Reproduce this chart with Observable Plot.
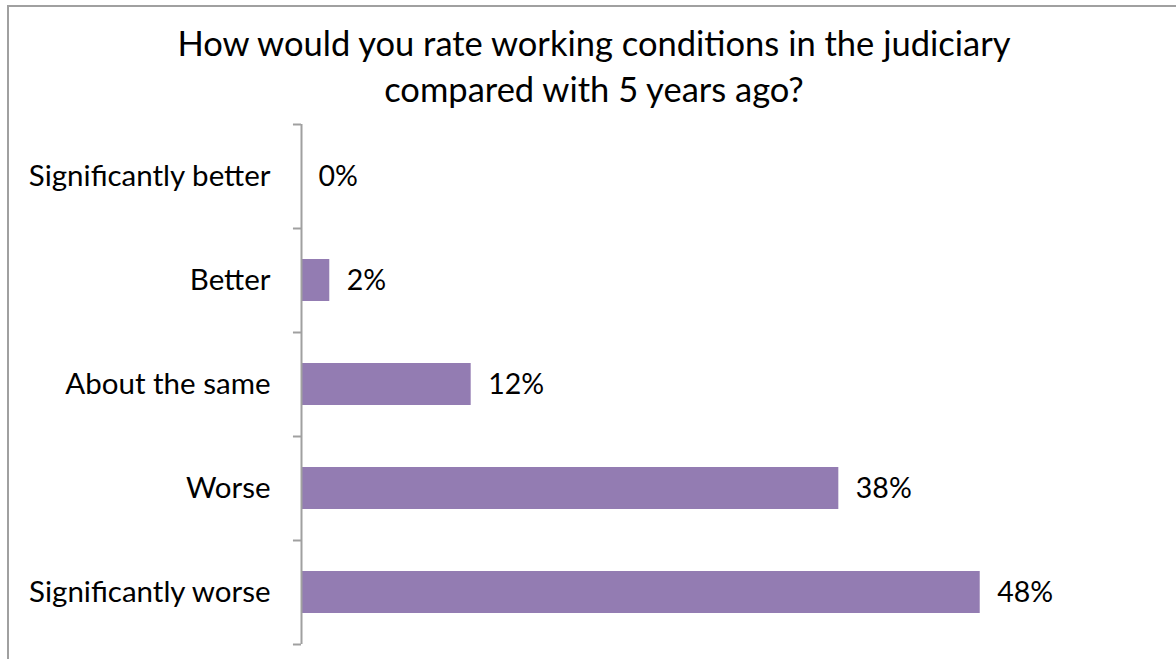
<!DOCTYPE html>
<html>
<head>
<meta charset="utf-8">
<script src="https://cdn.jsdelivr.net/npm/d3@7"></script>
<script src="https://cdn.jsdelivr.net/npm/@observablehq/plot@0.6"></script>
<style>
  html, body { margin: 0; padding: 0; background: #fff; }
  #wrap { position: relative; width: 1176px; height: 659px; overflow: hidden; font-family: Lato, "Open Sans", sans-serif; }
  #frame { position: absolute; left: 7px; top: 5px; width: 1200px; height: 700px; border-left: 2px solid #a0a0a0; border-top: 2px solid #a0a0a0; }
  #title { position: absolute; left: 0; top: 20px; width: 1188px; text-align: center; font-size: 34.5px; line-height: 46px; color: #000; }
  #chart { position: absolute; left: 0; top: 0; }
</style>
</head>
<body>
<div id="wrap">
  <div id="frame"></div>
  <div id="title">How would you rate working conditions in the judiciary<br>compared with 5 years ago?</div>
  <div id="chart"></div>
</div>
<script>
const categories = ["Significantly better", "Better", "About the same", "Worse", "Significantly worse"];
const values = [0, 2, 12, 38, 48];

const data = categories.map((c, i) => ({category: c, value: values[i]}));

const chart = Plot.plot({
  width: 1176,
  height: 659,
  marginLeft: 301,
  marginRight: 168,
  marginTop: 124,
  marginBottom: 15,
  style: {background: "transparent", fontFamily: "Lato, 'Open Sans', sans-serif", fontSize: "29.5px", color: "#000"},
  x: {domain: [0, 50], axis: null},
  y: {domain: categories, padding: 0, label: null},
  marks: [
    Plot.barX(data, {x: "value", y: "category", fill: "#937cb2", insetTop: 31, insetBottom: 31}),
    Plot.ruleY(categories, {y: d => d, x1: -0.57, x2: 0, dy: -52, stroke: "#a0a0a0", strokeWidth: 2}),
    Plot.ruleY([categories[categories.length - 1]], {y: d => d, x1: -0.57, x2: 0, dy: 52, stroke: "#a0a0a0", strokeWidth: 2}),
    Plot.ruleX([0], {stroke: "#a0a0a0", strokeWidth: 2}),
    Plot.axisY({tickSize: 0, tickPadding: 31, fontSize: 29.5, label: null}),
    Plot.text(data, {x: "value", y: "category", text: d => `${d.value}%`, textAnchor: "start", dx: 17, fontSize: 28.5, fill: "#000"})
  ]
});
document.getElementById("chart").appendChild(chart);
</script>
</body>
</html>
